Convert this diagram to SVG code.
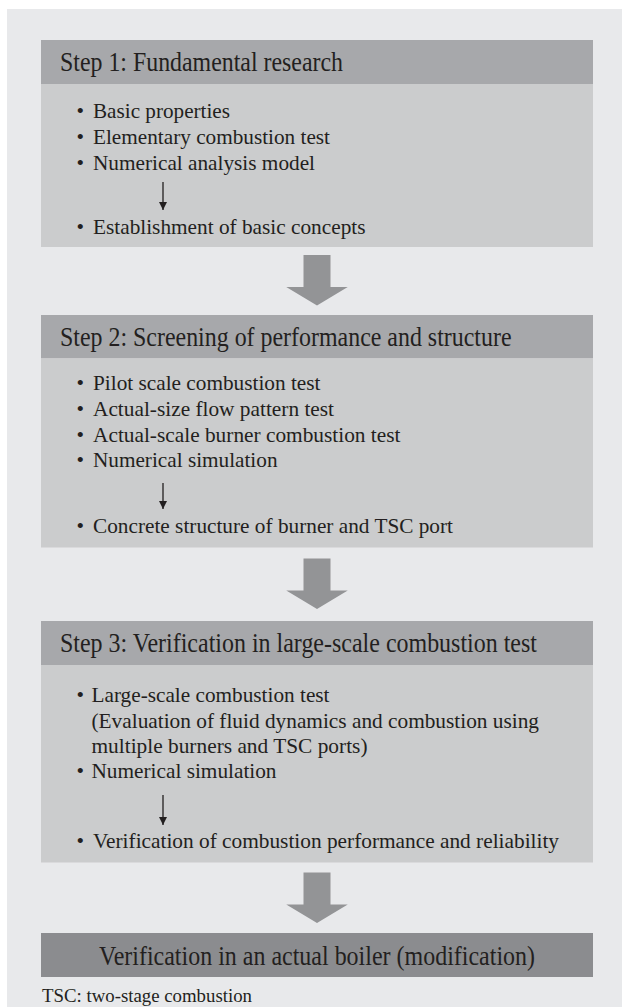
<svg xmlns="http://www.w3.org/2000/svg" width="622" height="1007" viewBox="0 0 622 1007">
<defs>
<style>
.panel{fill:#e8e9eb}
.hdr{fill:#a7a8ab}
.body{fill:#cbcccd}
.big{fill:#939496}
.final{fill:#8b8c8f}
text{font-family:"Liberation Serif","Times New Roman",serif;fill:#231f20}
.h{font-size:26.5px}
.i{font-size:21.5px}
.n{font-size:19.5px}
.thin{stroke:#231f20;stroke-width:1.3;fill:none}
</style>
<marker id="ah" viewBox="0 0 10 10" refX="10" refY="5" markerWidth="8" markerHeight="8" markerUnits="userSpaceOnUse" orient="auto">
<path d="M0,0 L10,5 L0,10 z" fill="#231f20"/>
</marker>
<path id="bigarrow" d="M-13.5,0 H13.5 V32 H30.75 L0,50.5 L-30.75,32 H-13.5 Z"/>
</defs>
<rect class="panel" x="7" y="9" width="615" height="998"/>

<g id="step1">
<rect class="hdr" x="41" y="40" width="552" height="44"/>
<rect class="body" x="41" y="84" width="552" height="163"/>
<text class="h" x="60" y="70.5" textLength="283" lengthAdjust="spacingAndGlyphs">Step 1: Fundamental research</text>
<text class="i" x="76.5" y="118">•</text><text class="i" x="93" y="118" textLength="137" lengthAdjust="spacingAndGlyphs">Basic properties</text>
<text class="i" x="76.5" y="144">•</text><text class="i" x="93" y="144" textLength="237" lengthAdjust="spacingAndGlyphs">Elementary combustion test</text>
<text class="i" x="76.5" y="169.5">•</text><text class="i" x="93" y="169.5" textLength="222" lengthAdjust="spacingAndGlyphs">Numerical analysis model</text>
<text class="i" x="76.5" y="233.5">•</text><text class="i" x="93" y="233.5" textLength="272.5" lengthAdjust="spacingAndGlyphs">Establishment of basic concepts</text>
</g>

<g id="step2">
<rect class="hdr" x="41" y="315" width="552" height="43.5"/>
<rect class="body" x="41" y="358.5" width="552" height="189"/>
<text class="h" x="60" y="345.5" textLength="451.5" lengthAdjust="spacingAndGlyphs">Step 2: Screening of performance and structure</text>
<text class="i" x="76.5" y="390">•</text><text class="i" x="93" y="390" textLength="227.5" lengthAdjust="spacingAndGlyphs">Pilot scale combustion test</text>
<text class="i" x="76.5" y="415.7">•</text><text class="i" x="93" y="415.7" textLength="241" lengthAdjust="spacingAndGlyphs">Actual-size flow pattern test</text>
<text class="i" x="76.5" y="441.7">•</text><text class="i" x="93" y="441.7" textLength="307.5" lengthAdjust="spacingAndGlyphs">Actual-scale burner combustion test</text>
<text class="i" x="76.5" y="467.3">•</text><text class="i" x="93" y="467.3" textLength="184.5" lengthAdjust="spacingAndGlyphs">Numerical simulation</text>
<text class="i" x="76.5" y="533.3">•</text><text class="i" x="93" y="533.3" textLength="360" lengthAdjust="spacingAndGlyphs">Concrete structure of burner and TSC port</text>
</g>

<g id="step3">
<rect class="hdr" x="41" y="621" width="552" height="44"/>
<rect class="body" x="41" y="665" width="552" height="197.5"/>
<text class="h" x="60" y="651.5" textLength="477" lengthAdjust="spacingAndGlyphs">Step 3: Verification in large-scale combustion test</text>
<text class="i" x="76.5" y="701.7">•</text><text class="i" x="91.5" y="701.7" textLength="238" lengthAdjust="spacingAndGlyphs">Large-scale combustion test</text>
<text class="i" x="91.5" y="728.3" textLength="447.5" lengthAdjust="spacingAndGlyphs">(Evaluation of fluid dynamics and combustion using</text>
<text class="i" x="91.5" y="753.3" textLength="276" lengthAdjust="spacingAndGlyphs">multiple burners and TSC ports)</text>
<text class="i" x="76.5" y="778.3">•</text><text class="i" x="91.5" y="778.3" textLength="185" lengthAdjust="spacingAndGlyphs">Numerical simulation</text>
<text class="i" x="76.5" y="848.3">•</text><text class="i" x="93" y="848.3" textLength="466" lengthAdjust="spacingAndGlyphs">Verification of combustion performance and reliability</text>
</g>

<g id="final">
<rect class="final" x="41" y="933" width="552" height="44"/>
<text class="h" x="99" y="965" textLength="436" lengthAdjust="spacingAndGlyphs">Verification in an actual boiler (modification)</text>
</g>

<g id="connectors">
<use href="#bigarrow" class="big" x="317" y="255"/>
<use href="#bigarrow" class="big" x="317" y="558.5"/>
<use href="#bigarrow" class="big" x="317" y="872.5"/>
<line class="thin" x1="163" y1="182" x2="163" y2="210" marker-end="url(#ah)"/>
<line class="thin" x1="163" y1="483" x2="163" y2="509" marker-end="url(#ah)"/>
<line class="thin" x1="163" y1="795" x2="163" y2="825" marker-end="url(#ah)"/>
</g>

<text class="n" x="42" y="1002" textLength="210" lengthAdjust="spacingAndGlyphs">TSC: two-stage combustion</text>
</svg>
